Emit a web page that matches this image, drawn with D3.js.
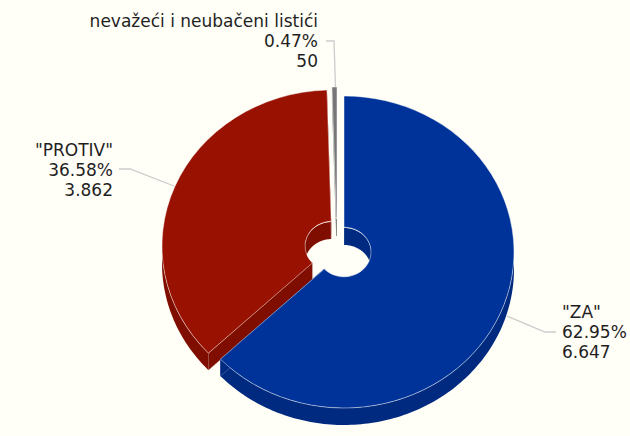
<!DOCTYPE html>
<html>
<head>
<meta charset="utf-8">
<script src="https://cdnjs.cloudflare.com/ajax/libs/d3/7.8.5/d3.min.js"></script>
<style>
  html, body { margin: 0; padding: 0; background: #fffef7; }
  text { font-family: "DejaVu Sans", Verdana, sans-serif; font-size: 17px; fill: #1f1f1f; }
</style>
</head>
<body>
<svg id="chart" width="630" height="436"></svg>
<script>
// Values
var categories = ['"ZA"', '"PROTIV"', 'nevažeći i neubačeni listići'];
var votes      = [6647, 3862, 50];
var percents   = ['62.95%', '36.58%', '0.47%'];
var voteLabels = ['6.647', '3.862', '50'];

var topColors  = ['#003399', '#991100', '#777777'];
var wallColors = ['#002a80', '#7f0e00', '#555555'];

// Pie shape
var rx = 170, ry = 156;
var rxIn = 27, ryIn = 24;
var depth = 17;

// every slice is pulled out of the pie on its own
var centers = [
    { x: 344, y: 252 },
    { x: 332, y: 246 },
    { x: 337, y: 243 }
];

// label placement, anchor and leader line per slice
var labelPos = [
    { x: 562, y: 318, anchor: 'start' },
    { x: 113, y: 156, anchor: 'end'   },
    { x: 318, y: 27,  anchor: 'end'   }
];
var leaders = [
    [[507, 316], [545, 332], [556, 332]],
    [[174, 186], [130, 169], [119, 169]],
    [[335.5, 87], [334, 41], [326, 41]]
];

var svg = d3.select('#chart');
var TAU = Math.PI * 2;

var slices = d3.pie().sort(null).value(function(d) { return d; })(votes);

var line = d3.line();

// point on a slice's ellipse, angle clockwise from the top like d3.arc
function pt(c, a, rX, rY, dy) {
    return [c.x + rX * Math.sin(a), c.y - rY * Math.cos(a) + (dy || 0)];
}

function sweep(a0, a1) {
    var n = Math.max(2, Math.ceil((a1 - a0) / 0.02));
    return d3.range(n + 1).map(function(i) { return a0 + (a1 - a0) * i / n; });
}

// band between an arc and the same arc moved down by depth
function wallPath(c, a0, a1, rX, rY) {
    var angles = sweep(a0, a1);
    var upper = angles.map(function(a) { return pt(c, a, rX, rY, 0); });
    var lower = angles.reverse().map(function(a) { return pt(c, a, rX, rY, depth); });
    return line(upper.concat(lower)) + 'Z';
}

function cutPath(c, a) {
    return line([
        pt(c, a, rxIn, ryIn, 0), pt(c, a, rx, ry, 0),
        pt(c, a, rx, ry, depth), pt(c, a, rxIn, ryIn, depth)
    ]) + 'Z';
}

var arc = d3.arc().innerRadius(rxIn).outerRadius(rx);

// back to front: thin slice, red, blue
[2, 1, 0].forEach(function(i) {
    var s = slices[i], c = centers[i];
    var g = svg.append('g');

    function wall(d) {
        g.append('path').attr('d', d).attr('fill', wallColors[i]);
    }

    // far side of the hole
    var far = [[s.startAngle, Math.min(s.endAngle, TAU / 4)],
               [Math.max(s.startAngle, TAU * 3 / 4), s.endAngle]];
    far.forEach(function(r) {
        if(r[1] > r[0]) wall(wallPath(c, r[0], r[1], rxIn, ryIn));
    });

    // near side of the rim
    var a0 = Math.max(s.startAngle, TAU / 4), a1 = Math.min(s.endAngle, TAU * 3 / 4);
    if(a1 > a0) wall(wallPath(c, a0, a1, rx, ry));

    wall(cutPath(c, s.startAngle));
    wall(cutPath(c, s.endAngle));

    // lower edge of the cut, shows faintly over the rim
    [s.startAngle, s.endAngle].forEach(function(a) {
        g.append('path')
            .attr('d', line([pt(c, a, rx, ry, depth), pt(c, a, rxIn, ryIn, depth)]))
            .attr('stroke', 'rgba(255,255,255,0.2)')
            .attr('fill', 'none');
    });

    g.append('path')
        .attr('d', arc(s))
        .attr('transform', 'translate(' + c.x + ',' + c.y + ') scale(1,' + (ry / rx) + ')')
        .attr('fill', topColors[i])
        .attr('stroke', 'rgba(255,255,255,0.45)')
        .attr('stroke-width', 1)
        .attr('vector-effect', 'non-scaling-stroke');
});

// leader lines
leaders.forEach(function(l) {
    svg.append('path')
        .attr('d', line(l))
        .attr('fill', 'none')
        .attr('stroke', '#cccccc')
        .attr('stroke-width', 1.3);
});

// labels
categories.forEach(function(name, i) {
    var p = labelPos[i];
    var t = svg.append('text').attr('text-anchor', p.anchor);
    [name, percents[i], voteLabels[i]].forEach(function(str, k) {
        t.append('tspan').attr('x', p.x).attr('y', p.y + k * 20).text(str);
    });
});
</script>
</body>
</html>
